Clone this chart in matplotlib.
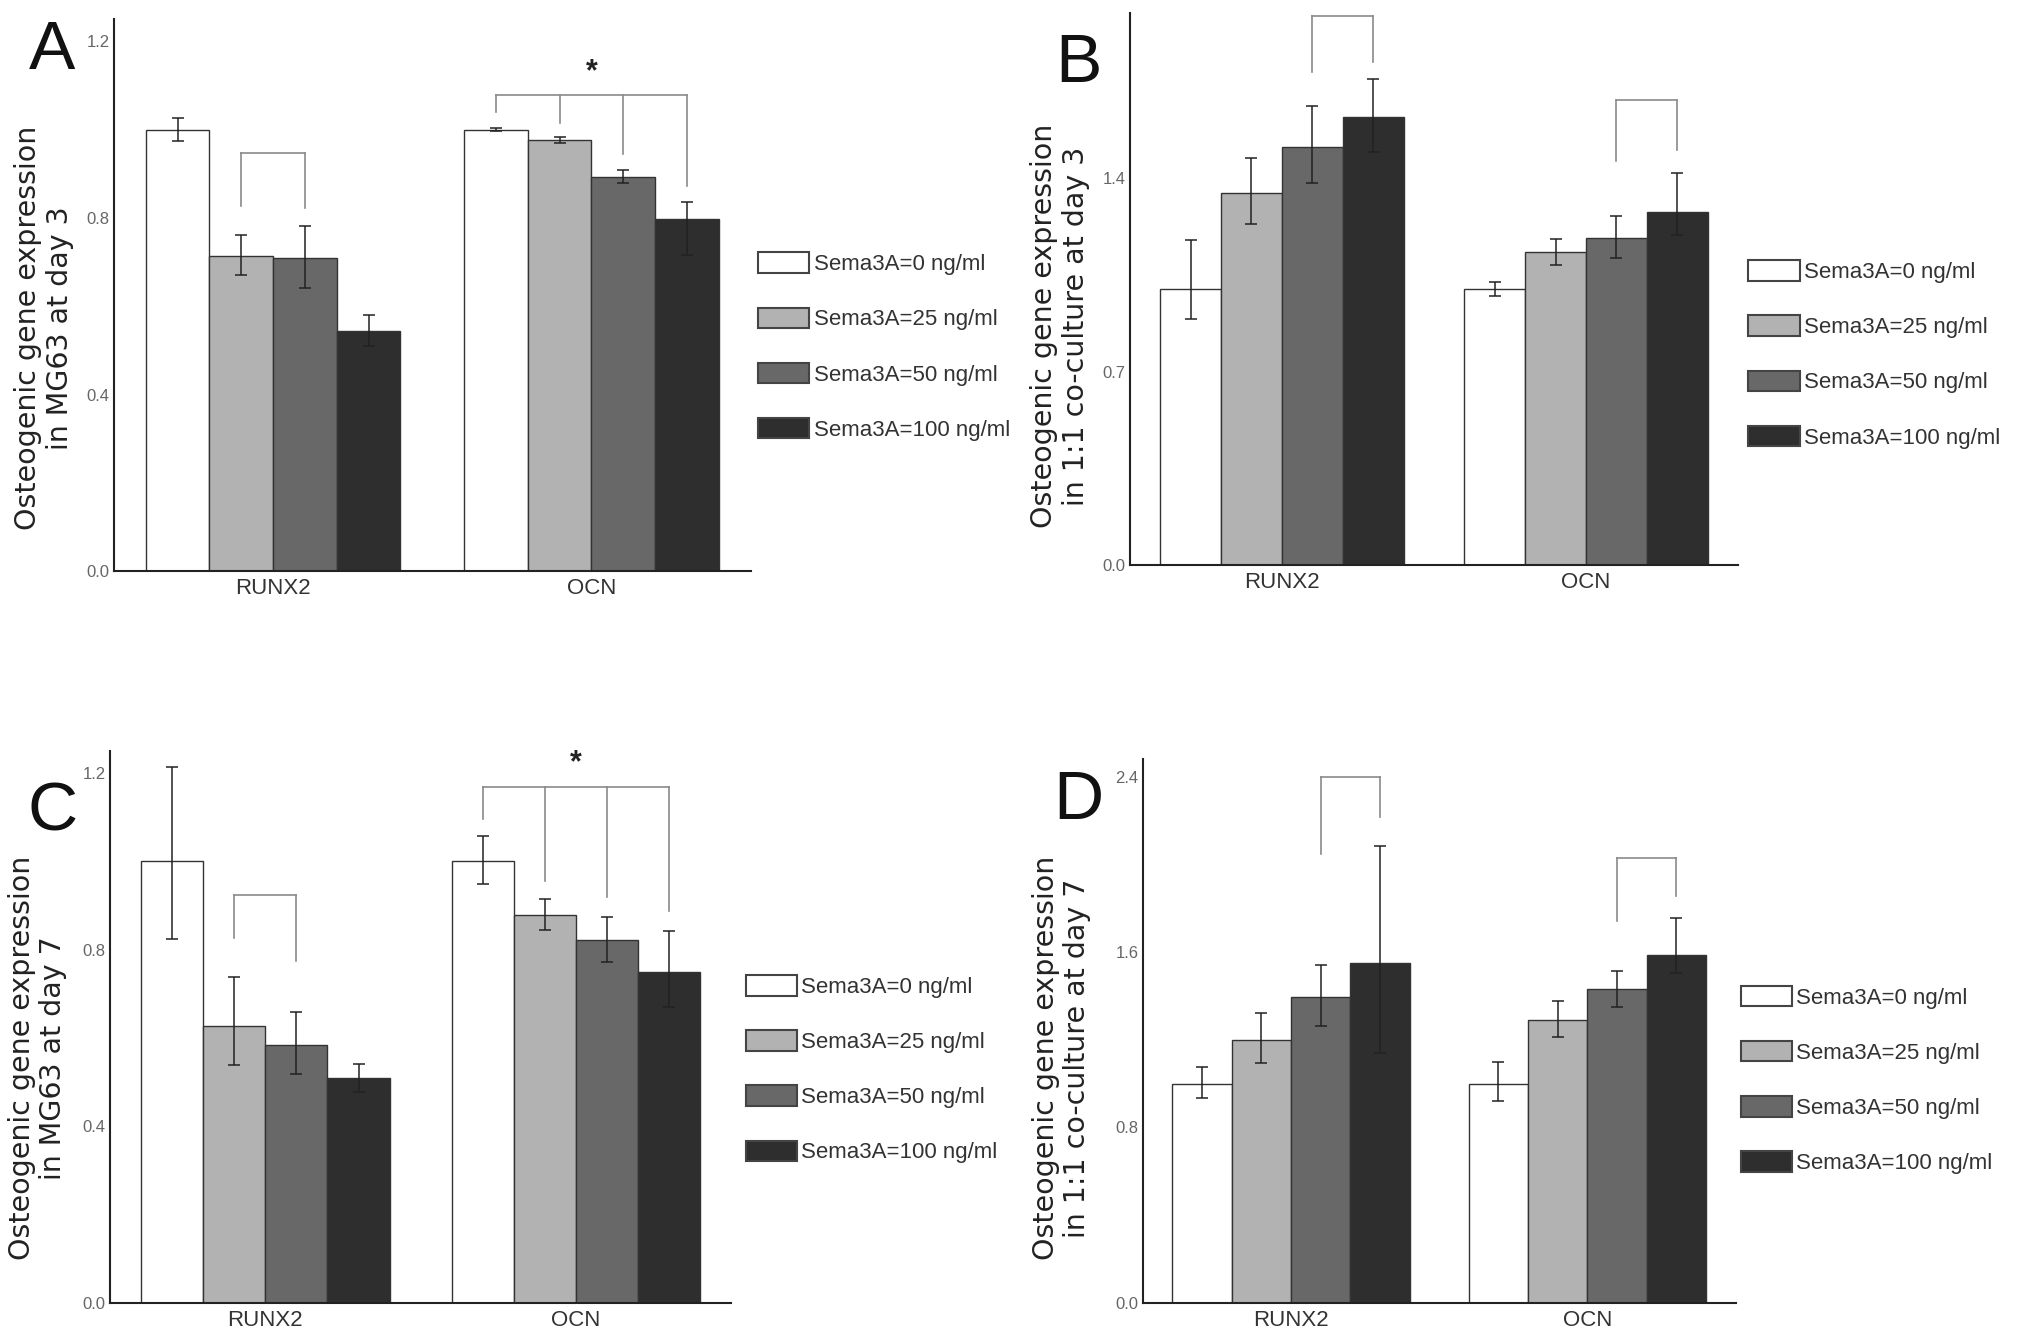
import numpy as np
import matplotlib
matplotlib.use("Agg")
import matplotlib.pyplot as plt
from matplotlib.patches import Patch

plt.rcParams['font.family'] = ['Liberation Sans', 'DejaVu Sans']

# data: 4 Sema3A doses per gene, values relative to control
genes = ["RUNX2", "OCN"]
doses = ["Sema3A=0 ng/ml", "Sema3A=25 ng/ml", "Sema3A=50 ng/ml", "Sema3A=100 ng/ml"]
colors = ["#ffffff", "#b2b2b2", "#686868", "#2e2e2e"]

# A: MG63 day 3
a_runx2 = [1.0, 0.715, 0.709, 0.543]
a_runx2_hi = [0.026, 0.047, 0.074, 0.037]
a_runx2_lo = [0.025, 0.043, 0.067, 0.033]
a_ocn = [1.0, 0.977, 0.894, 0.798]
a_ocn_hi = [0.003, 0.007, 0.015, 0.038]
a_ocn_lo = [0.003, 0.007, 0.015, 0.082]

# B: 1:1 co-culture day 3
b_runx2 = [1.0, 1.346, 1.515, 1.622]
b_runx2_hi = [0.176, 0.129, 0.148, 0.139]
b_runx2_lo = [0.110, 0.112, 0.132, 0.125]
b_ocn = [1.0, 1.134, 1.183, 1.277]
b_ocn_hi = [0.025, 0.048, 0.080, 0.142]
b_ocn_lo = [0.025, 0.047, 0.072, 0.082]

# C: MG63 day 7
c_runx2 = [1.0, 0.628, 0.585, 0.510]
c_runx2_hi = [0.214, 0.110, 0.074, 0.032]
c_runx2_lo = [0.175, 0.090, 0.066, 0.032]
c_ocn = [1.0, 0.878, 0.821, 0.750]
c_ocn_hi = [0.057, 0.036, 0.054, 0.092]
c_ocn_lo = [0.051, 0.033, 0.049, 0.081]

# D: 1:1 co-culture day 7
d_runx2 = [1.0, 1.200, 1.394, 1.551]
d_runx2_hi = [0.076, 0.123, 0.146, 0.534]
d_runx2_lo = [0.065, 0.108, 0.130, 0.410]
d_ocn = [1.0, 1.289, 1.430, 1.585]
d_ocn_hi = [0.097, 0.086, 0.083, 0.171]
d_ocn_lo = [0.079, 0.076, 0.083, 0.081]

ylabels = ["Osteogenic gene expression\nin MG63 at day 3",
           "Osteogenic gene expression\nin 1:1 co-culture at day 3",
           "Osteogenic gene expression\nin MG63 at day 7",
           "Osteogenic gene expression\nin 1:1 co-culture at day 7"]

# brackets: (gene index, list of bar indices, top y, list of leg-bottom y)
a_brackets = [(0, [1, 2], 0.948, [0.827, 0.822]),
              (1, [0, 1, 2, 3], 1.079, [1.040, 1.016, 0.944, 0.872])]
b_brackets = [(0, [2, 3], 1.989, [1.785, 1.823]),
              (1, [2, 3], 1.684, [1.462, 1.504])]
c_brackets = [(0, [1, 2], 0.924, [0.827, 0.775]),
              (1, [0, 1, 2, 3], 1.169, [1.097, 0.955, 0.919, 0.888])]
d_brackets = [(0, [2, 3], 2.400, [2.045, 2.217]),
              (1, [2, 3], 2.031, [1.740, 1.856])]
a_star = 1.13
c_star = 1.223

fig = plt.figure(figsize=(20.19, 13.39), dpi=100)

panels = [
    dict(rect=[0.0564, 0.5735, 0.3154, 0.412], vals=[a_runx2, a_ocn],
         lo=[a_runx2_lo, a_ocn_lo], hi=[a_runx2_hi, a_ocn_hi],
         ylim=1.25, yticks=[0.0, 0.4, 0.8, 1.2], br=a_brackets, star=a_star,
         letter="A", lpos=(0.026, 0.962), leg=(1.012, 0.407), lab=(-0.063, 0.441)),
    dict(rect=[0.5596, 0.5783, 0.3013, 0.412], vals=[b_runx2, b_ocn],
         lo=[b_runx2_lo, b_ocn_lo], hi=[b_runx2_hi, b_ocn_hi],
         ylim=2.0, yticks=[0.0, 0.7, 1.4], br=b_brackets, star=None,
         letter="B", lpos=(0.534, 0.952), leg=(1.017, 0.381), lab=(-0.066, 0.432)),
    dict(rect=[0.0545, 0.0271, 0.3077, 0.412], vals=[c_runx2, c_ocn],
         lo=[c_runx2_lo, c_ocn_lo], hi=[c_runx2_hi, c_ocn_hi],
         ylim=1.25, yticks=[0.0, 0.4, 0.8, 1.2], br=c_brackets, star=c_star,
         letter="C", lpos=(0.026, 0.393), leg=(1.023, 0.423), lab=(-0.069, 0.444)),
    dict(rect=[0.566, 0.0271, 0.2936, 0.406], vals=[d_runx2, d_ocn],
         lo=[d_runx2_lo, d_ocn_lo], hi=[d_runx2_hi, d_ocn_hi],
         ylim=2.48, yticks=[0.0, 0.8, 1.6, 2.4], br=d_brackets, star=None,
         letter="D", lpos=(0.534, 0.402), leg=(1.009, 0.41), lab=(-0.087, 0.45)),
]

bar_x = np.arange(4) + 0.5
group_offset = [0, 5]

for p, ylab in zip(panels, ylabels):
    ax = fig.add_axes(p["rect"])
    for g in range(2):
        x = bar_x + group_offset[g]
        ax.bar(x, p["vals"][g], width=1.0, color=colors, edgecolor="#333333",
               linewidth=1.0, zorder=2)
        ax.errorbar(x, p["vals"][g], yerr=[p["lo"][g], p["hi"][g]], fmt="none",
                    ecolor="#222222", elinewidth=1.1, capsize=4, capthick=1.1,
                    zorder=3)
    for g, idx, top, bottoms in p["br"]:
        xs = [bar_x[i] + group_offset[g] for i in idx]
        ax.plot([xs[0], xs[-1]], [top, top], color="#8a8a8a", lw=1.2,
                clip_on=False, zorder=4)
        for xx, yb in zip(xs, bottoms):
            ax.plot([xx, xx], [yb, top], color="#8a8a8a", lw=1.2,
                    clip_on=False, zorder=4)
    if p["star"] is not None:
        ax.text(group_offset[1] + 2, p["star"], "*", ha="center", va="center",
                fontsize=22, fontweight="bold", color="#222222")

    ax.set_xlim(-0.5, 9.5)
    ax.set_ylim(0, p["ylim"])
    ax.set_yticks(p["yticks"])
    ax.set_yticklabels([f"{t:.1f}" for t in p["yticks"]])
    ax.set_xticks([2, 7])
    ax.set_xticklabels(genes)
    for s in ["top", "right"]:
        ax.spines[s].set_visible(False)
    for s in ["left", "bottom"]:
        ax.spines[s].set_color("#222222")
        ax.spines[s].set_linewidth(1.5)
    ax.tick_params(axis="y", length=0, pad=3, labelsize=12, labelcolor="#666666")
    ax.tick_params(axis="x", length=0, pad=5, labelsize=16, labelcolor="#333333")

    ax.set_ylabel(ylab, fontsize=20.5, family="DejaVu Sans", color="#222222",
                  linespacing=1.15)
    ax.yaxis.set_label_coords(*p["lab"])

    handles = [Patch(facecolor=c, edgecolor="#444444", linewidth=1.5) for c in colors]
    ax.legend(handles, doses, loc="center left", bbox_to_anchor=p["leg"],
              frameon=False, fontsize=16, handlelength=2.3, handleheight=1.05,
              handletextpad=0.2, labelspacing=1.45, borderaxespad=0,
              borderpad=0, labelcolor="#333333")

    fig.text(p["lpos"][0], p["lpos"][1], p["letter"], ha="center", va="center",
             fontsize=50, color="#111111")

fig.savefig("out.png", dpi=100)
